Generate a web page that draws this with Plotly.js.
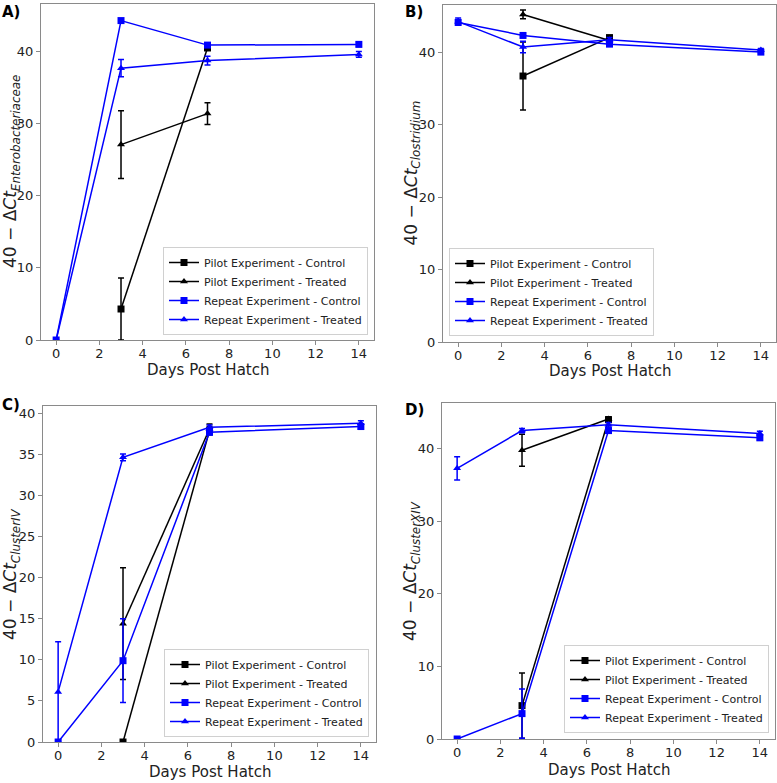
<!DOCTYPE html>
<html>
<head>
<meta charset="utf-8">
<script src="https://cdn.plot.ly/plotly-3.0.1.min.js"></script>
<style>html,body{margin:0;padding:0;background:#fff;}#chart{width:777px;height:783px;}</style>
</head>
<body>
<div id="chart"></div>
<script>
// ---------- data ----------
const daysPilot = [3, 7];
const daysRepeat = [0, 3, 7, 14];
const seriesNames = ["Pilot Experiment - Control", "Pilot Experiment - Treated", "Repeat Experiment - Control", "Repeat Experiment - Treated"];
const xTickVals = [0, 2, 4, 6, 8, 10, 12, 14];

// Panel A: Enterobacteriaceae
const aPilotControl = [4.3, 40.5];
const aPilotControlErr = [4.3, 0.3];
const aPilotTreated = [27.1, 31.4];
const aPilotTreatedErr = [4.7, 1.5];
const aRepeatControl = [0, 44.3, 40.9, 41.0];
const aRepeatControlErr = [0, 0.2, 0.3, 0.3];
const aRepeatTreated = [0, 37.7, 38.75, 39.6];
const aRepeatTreatedErr = [0, 1.2, 0.6, 0.4];

// Panel B: Clostridium
const bPilotControl = [36.7, 42.0];
const bPilotControlErr = [4.7, 0.3];
const bPilotTreated = [45.2, 41.6];
const bPilotTreatedErr = [0.6, 0.3];
const bRepeatControl = [44.1, 42.3, 41.1, 40.0];
const bRepeatControlErr = [0.3, 0.3, 0.3, 0.2];
const bRepeatTreated = [44.2, 40.7, 41.7, 40.3];
const bRepeatTreatedErr = [0.5, 0.8, 0.3, 0.2];

// Panel C: Cluster IV
const cPilotControl = [0, 37.9];
const cPilotControlErr = [0, 0.5];
const cPilotTreated = [14.4, 38.1];
const cPilotTreatedErr = [6.8, 0.6];
const cRepeatControl = [0, 9.9, 37.7, 38.4];
const cRepeatControlErr = [0, 5.1, 0.3, 0.3];
const cRepeatTreated = [6.1, 34.65, 38.3, 38.8];
const cRepeatTreatedErr = [6.1, 0.4, 0.3, 0.3];

// Panel D: Cluster XIV
const dPilotControl = [4.6, 44.0];
const dPilotControlErr = [4.5, 0.3];
const dPilotTreated = [39.8, 44.1];
const dPilotTreatedErr = [2.2, 0.3];
const dRepeatControl = [0, 3.5, 42.5, 41.5];
const dRepeatControlErr = [0, 3.4, 0.3, 0.3];
const dRepeatTreated = [37.3, 42.5, 43.3, 42.1];
const dRepeatTreatedErr = [1.6, 0.3, 0.3, 0.3];

// ---------- build ----------
const W = 777, H = 783;
const FONT = "DejaVu Sans, sans-serif";
const styles = [
  {color: "#000000", symbol: "square"},
  {color: "#000000", symbol: "triangle-up"},
  {color: "#0000ff", symbol: "square"},
  {color: "#0000ff", symbol: "triangle-up"}
];

const panels = [
  {label: "A)", labelPos: [0, 1], taxon: "Enterobacteriaceae", ymax: 46.6, dtick: 10,
   px: [41, 374], py: [4, 340], ytitleX: 11, xtitleY: 370,
   legend: {x: 368, y: 335, xanchor: "right"},
   data: [[daysPilot, aPilotControl, aPilotControlErr], [daysPilot, aPilotTreated, aPilotTreatedErr],
          [daysRepeat, aRepeatControl, aRepeatControlErr], [daysRepeat, aRepeatTreated, aRepeatTreatedErr]]},
  {label: "B)", labelPos: [403, 1], taxon: "Clostridium", ymax: 46.5, dtick: 10,
   px: [443, 776], py: [5, 342], ytitleX: 412, xtitleY: 371,
   legend: {x: 449, y: 336, xanchor: "left"},
   data: [[daysPilot, bPilotControl, bPilotControlErr], [daysPilot, bPilotTreated, bPilotTreatedErr],
          [daysRepeat, bRepeatControl, bRepeatControlErr], [daysRepeat, bRepeatTreated, bRepeatTreatedErr]]},
  {label: "C)", labelPos: [0, 394], taxon: "ClusterIV", ymax: 40.9, dtick: 5,
   px: [43, 376], py: [406, 742], ytitleX: 11, xtitleY: 772,
   legend: {x: 369, y: 737, xanchor: "right"},
   data: [[daysPilot, cPilotControl, cPilotControlErr], [daysPilot, cPilotTreated, cPilotTreatedErr],
          [daysRepeat, cRepeatControl, cRepeatControlErr], [daysRepeat, cRepeatTreated, cRepeatTreatedErr]]},
  {label: "D)", labelPos: [403, 399], taxon: "ClusterXIV", ymax: 46.3, dtick: 10,
   px: [442, 775], py: [403, 739], ytitleX: 411, xtitleY: 770,
   legend: {x: 769, y: 733, xanchor: "right"},
   data: [[daysPilot, dPilotControl, dPilotControlErr], [daysPilot, dPilotTreated, dPilotTreatedErr],
          [daysRepeat, dRepeatControl, dRepeatControlErr], [daysRepeat, dRepeatTreated, dRepeatTreatedErr]]}
];

const traces = [];
const layout = {
  width: W, height: H,
  margin: {l: 0, r: 0, t: 0, b: 0},
  paper_bgcolor: "#fff", plot_bgcolor: "#fff",
  font: {family: FONT, color: "#222", size: 13},
  annotations: []
};

panels.forEach((p, i) => {
  const n = i + 1;
  const xa = n === 1 ? "x" : "x" + n;
  const ya = n === 1 ? "y" : "y" + n;
  const lg = n === 1 ? "legend" : "legend" + n;
  p.data.forEach((d, k) => {
    traces.push({
      type: "scatter", mode: "lines+markers",
      x: d[0], y: d[1], name: seriesNames[k],
      xaxis: xa, yaxis: ya, legend: lg,
      line: {color: styles[k].color, width: 1.5},
      marker: {color: styles[k].color, symbol: styles[k].symbol, size: 7},
      error_y: {type: "data", array: d[2], visible: true, color: styles[k].color, thickness: 1.5, width: 3}
    });
  });
  const axCommon = {
    showgrid: false, zeroline: false, showline: true, mirror: true,
    linecolor: "#8a8a8a", linewidth: 1,
    ticks: "outside", ticklen: 4, tickcolor: "#8a8a8a",
    tickfont: {family: FONT, size: 13, color: "#222"}
  };
  layout[n === 1 ? "xaxis" : "xaxis" + n] = Object.assign({}, axCommon, {
    domain: [p.px[0] / W, p.px[1] / W],
    anchor: ya, range: [-0.7, 14.7], tickvals: xTickVals,
    ticklabelstandoff: -3
  });
  layout[n === 1 ? "yaxis" : "yaxis" + n] = Object.assign({}, axCommon, {
    domain: [1 - p.py[1] / H, 1 - p.py[0] / H],
    anchor: xa, range: [0, p.ymax], dtick: p.dtick, tick0: 0
  });
  layout[lg] = {
    x: p.legend.x / W, y: 1 - p.legend.y / H,
    xanchor: p.legend.xanchor, yanchor: "bottom",
    bgcolor: "rgba(255,255,255,0.85)", bordercolor: "#d0d0d0", borderwidth: 1,
    font: {family: FONT, size: 11, color: "#222"},
    tracegroupgap: 0, itemwidth: 30
  };
  // panel label
  layout.annotations.push({
    text: "<b>" + p.label + "</b>", xref: "paper", yref: "paper",
    x: p.labelPos[0] / W, y: 1 - p.labelPos[1] / H,
    xanchor: "left", yanchor: "top", showarrow: false,
    font: {family: FONT, size: 15, color: "#000"}
  });
  // x title
  layout.annotations.push({
    text: "Days Post Hatch", xref: "paper", yref: "paper",
    x: (p.px[0] + p.px[1]) / 2 / W, y: 1 - p.xtitleY / H,
    xanchor: "center", yanchor: "middle", showarrow: false,
    font: {family: FONT, size: 15, color: "#222"}
  });
  // y title
  layout.annotations.push({
    text: "40 − Δ<i>Ct</i><sub><i>" + p.taxon + "</i></sub>", xref: "paper", yref: "paper",
    x: p.ytitleX / W, y: 1 - (p.py[0] + p.py[1]) / 2 / H,
    xanchor: "center", yanchor: "middle", textangle: -90, showarrow: false,
    font: {family: FONT, size: 17, color: "#222"}
  });
});

Plotly.newPlot("chart", traces, layout, {displayModeBar: false, staticPlot: true});
</script>
</body>
</html>
